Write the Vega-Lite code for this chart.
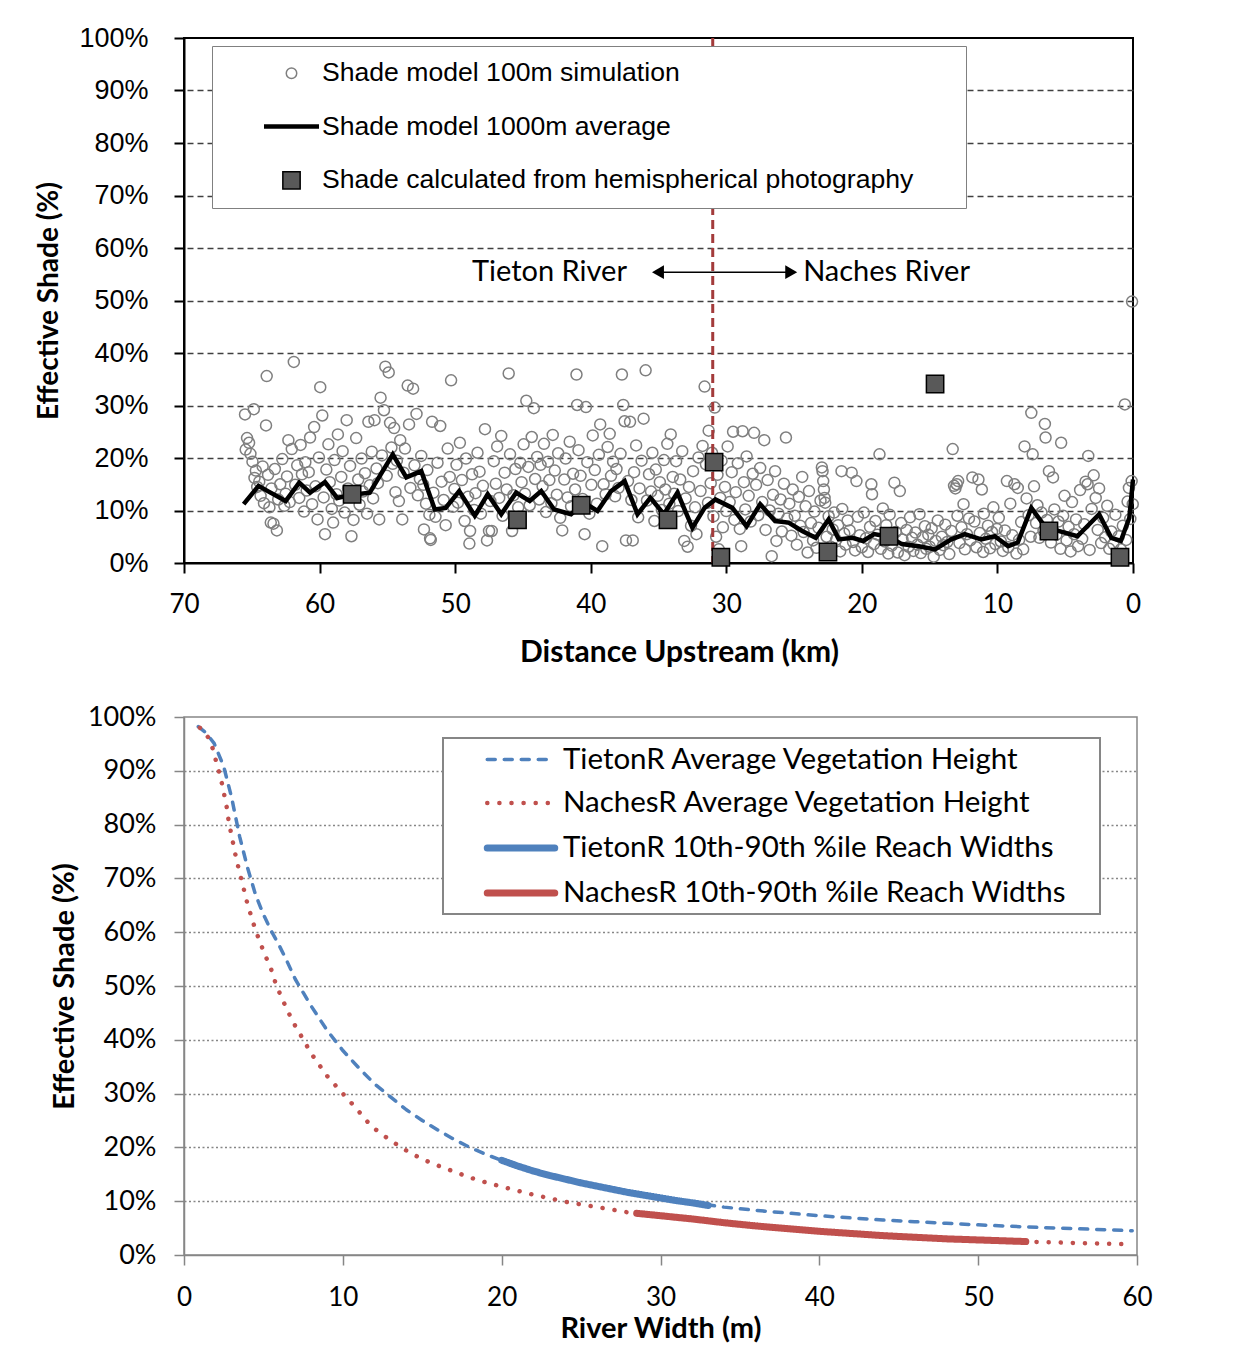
{
  "$schema": "https://vega.github.io/schema/vega-lite/v6.json",
  "usermeta": {"embedOptions": {"actions": false}},
  "background": "white",
  "padding": {"left": 34, "top": 23, "right": 0, "bottom": 0},
  "spacing": 34,
  "resolve": {
    "scale": {"stroke": "independent", "fill": "independent", "shape": "independent", "size": "independent", "strokeWidth": "independent", "strokeDash": "independent", "color": "independent"},
    "legend": {"stroke": "independent", "fill": "independent", "shape": "independent", "size": "independent", "strokeWidth": "independent", "strokeDash": "independent", "color": "independent"}
  },
  "config": {
    "view": {"stroke": null},
    "axis": {"labelColor": "black", "titleColor": "black", "labelFlush": false}
  },
  "vconcat": [
    {
      "width": 949,
      "height": 525,
      "view": {"stroke": "black", "strokeWidth": 2},
      "layer": [
        {
          "data": {"values": [
{"k":65.5,"s":28.3},{"k":65.45,"s":21.6},{"k":65.35,"s":23.8},{"k":65.2,"s":22.9},{"k":65.1,"s":20.8},{"k":64.95,"s":19.3},{"k":64.85,"s":29.3},{"k":64.8,"s":16.2},{"k":64.7,"s":17.6},{"k":64.6,"s":14.5},
{"k":64.45,"s":15.5},{"k":64.35,"s":12.8},{"k":64.2,"s":18.4},{"k":64.1,"s":11.4},{"k":63.9,"s":35.6},{"k":63.95,"s":26.2},{"k":63.8,"s":16.8},{"k":63.7,"s":10.6},{"k":63.6,"s":7.7},{"k":63.55,"s":14.2},
{"k":63.4,"s":7.5},{"k":63.3,"s":17.9},{"k":63.15,"s":6.2},{"k":63.05,"s":12.1},{"k":62.9,"s":15.0},{"k":62.75,"s":19.8},{"k":62.6,"s":10.9},{"k":62.5,"s":13.2},{"k":62.4,"s":16.5},{"k":62.3,"s":23.4},
{"k":62.2,"s":11.6},{"k":62.05,"s":21.7},{"k":61.9,"s":38.3},{"k":61.8,"s":14.9},{"k":61.65,"s":18.6},{"k":61.5,"s":12.4},{"k":61.4,"s":22.5},{"k":61.3,"s":16.9},{"k":61.15,"s":9.8},{"k":61.05,"s":19.2},
{"k":60.95,"s":13.8},{"k":60.8,"s":17.3},{"k":60.7,"s":23.9},{"k":60.55,"s":11.2},{"k":60.4,"s":25.9},{"k":60.3,"s":14.6},{"k":60.15,"s":8.3},{"k":60.05,"s":20.1},{"k":59.95,"s":33.5},{"k":59.8,"s":28.1},
{"k":59.7,"s":12.5},{"k":59.6,"s":5.5},{"k":59.5,"s":17.8},{"k":59.35,"s":22.6},{"k":59.25,"s":15.4},{"k":59.1,"s":10.3},{"k":59.0,"s":7.7},{"k":58.9,"s":19.6},{"k":58.75,"s":13.1},{"k":58.65,"s":24.5},
{"k":58.55,"s":11.9},{"k":58.4,"s":16.4},{"k":58.3,"s":21.3},{"k":58.15,"s":9.6},{"k":58.0,"s":27.2},{"k":57.9,"s":14.2},{"k":57.75,"s":18.5},{"k":57.65,"s":5.1},{"k":57.5,"s":8.2},{"k":57.4,"s":12.7},
{"k":57.3,"s":23.8},{"k":57.15,"s":15.9},{"k":57.05,"s":11.1},{"k":56.9,"s":19.9},{"k":56.8,"s":13.6},{"k":56.65,"s":17.1},{"k":56.5,"s":9.4},{"k":56.4,"s":26.9},{"k":56.3,"s":14.8},{"k":56.15,"s":21.2},
{"k":56.05,"s":12.3},{"k":55.95,"s":27.2},{"k":55.8,"s":18.0},{"k":55.7,"s":15.2},{"k":55.6,"s":8.3},{"k":55.5,"s":31.5},{"k":55.4,"s":20.5},{"k":55.25,"s":29.1},{"k":55.15,"s":37.4},{"k":55.05,"s":16.6},
{"k":54.9,"s":36.3},{"k":54.8,"s":26.7},{"k":54.7,"s":22.0},{"k":54.6,"s":18.9},{"k":54.5,"s":25.7},{"k":54.4,"s":13.5},{"k":54.3,"s":19.5},{"k":54.15,"s":11.8},{"k":54.05,"s":23.4},{"k":53.9,"s":8.3},
{"k":53.8,"s":17.2},{"k":53.7,"s":21.8},{"k":53.5,"s":33.8},{"k":53.4,"s":26.4},{"k":53.3,"s":14.3},{"k":53.1,"s":33.2},{"k":53.0,"s":18.6},{"k":52.85,"s":28.4},{"k":52.75,"s":12.9},{"k":52.6,"s":16.0},
{"k":52.5,"s":20.4},{"k":52.35,"s":14.9},{"k":52.3,"s":6.4},{"k":52.15,"s":11.3},{"k":52.05,"s":17.7},{"k":51.9,"s":9.2},{"k":51.85,"s":4.7},{"k":51.8,"s":4.4},{"k":51.7,"s":26.9},{"k":51.6,"s":13.4},
{"k":51.45,"s":8.8},{"k":51.3,"s":19.1},{"k":51.1,"s":26.1},{"k":51.0,"s":15.5},{"k":50.85,"s":12.0},{"k":50.7,"s":7.2},{"k":50.55,"s":21.8},{"k":50.4,"s":16.4},{"k":50.3,"s":34.8},{"k":50.15,"s":10.7},
{"k":50.05,"s":14.1},{"k":49.9,"s":18.7},{"k":49.8,"s":11.5},{"k":49.65,"s":22.9},{"k":49.5,"s":15.8},{"k":49.3,"s":8.0},{"k":49.2,"s":19.9},{"k":49.05,"s":12.6},{"k":48.95,"s":3.7},{"k":48.9,"s":6.1},
{"k":48.75,"s":16.9},{"k":48.6,"s":10.1},{"k":48.5,"s":13.3},{"k":48.35,"s":21.0},{"k":48.2,"s":17.4},{"k":48.1,"s":9.4},{"k":47.95,"s":14.7},{"k":47.8,"s":25.5},{"k":47.65,"s":4.3},{"k":47.5,"s":6.1},
{"k":47.4,"s":11.8},{"k":47.3,"s":6.1},{"k":47.15,"s":19.4},{"k":47.0,"s":15.1},{"k":46.9,"s":22.2},{"k":46.75,"s":12.4},{"k":46.6,"s":24.2},{"k":46.5,"s":9.0},{"k":46.35,"s":17.2},{"k":46.2,"s":14.0},
{"k":46.05,"s":36.1},{"k":45.95,"s":20.7},{"k":45.8,"s":6.1},{"k":45.7,"s":12.9},{"k":45.55,"s":17.9},{"k":45.5,"s":7.7},{"k":45.35,"s":10.6},{"k":45.2,"s":19.1},{"k":45.1,"s":15.4},{"k":44.95,"s":22.6},
{"k":44.85,"s":13.2},{"k":44.75,"s":30.9},{"k":44.6,"s":18.3},{"k":44.5,"s":11.0},{"k":44.35,"s":24.0},{"k":44.2,"s":29.5},{"k":44.1,"s":16.0},{"k":43.95,"s":20.2},{"k":43.8,"s":12.1},{"k":43.7,"s":18.7},
{"k":43.55,"s":14.6},{"k":43.45,"s":22.7},{"k":43.3,"s":9.7},{"k":43.15,"s":19.3},{"k":43.05,"s":15.8},{"k":42.9,"s":11.4},{"k":42.8,"s":24.4},{"k":42.65,"s":17.6},{"k":42.5,"s":13.0},{"k":42.4,"s":20.9},
{"k":42.25,"s":8.6},{"k":42.1,"s":6.2},{"k":41.95,"s":15.9},{"k":41.85,"s":19.9},{"k":41.7,"s":12.5},{"k":41.55,"s":23.1},{"k":41.45,"s":10.8},{"k":41.3,"s":17.0},{"k":41.15,"s":14.0},{"k":41.05,"s":35.9},
{"k":41.0,"s":30.1},{"k":40.9,"s":21.5},{"k":40.75,"s":16.6},{"k":40.6,"s":12.2},{"k":40.45,"s":5.5},{"k":40.35,"s":29.7},{"k":40.25,"s":19.2},{"k":40.1,"s":9.4},{"k":39.95,"s":14.9},{"k":39.85,"s":24.3},
{"k":39.7,"s":17.7},{"k":39.55,"s":11.3},{"k":39.4,"s":20.6},{"k":39.3,"s":26.4},{"k":39.15,"s":3.2},{"k":39.05,"s":15.0},{"k":38.9,"s":13.1},{"k":38.75,"s":22.1},{"k":38.6,"s":24.6},{"k":38.5,"s":16.6},
{"k":38.35,"s":19.3},{"k":38.2,"s":12.7},{"k":38.1,"s":17.9},{"k":37.95,"s":14.3},{"k":37.8,"s":20.8},{"k":37.7,"s":35.9},{"k":37.6,"s":30.1},{"k":37.5,"s":27.0},{"k":37.4,"s":4.3},{"k":37.25,"s":15.6},
{"k":37.1,"s":26.9},{"k":37.0,"s":12.0},{"k":36.9,"s":4.3},{"k":36.8,"s":17.3},{"k":36.65,"s":22.4},{"k":36.5,"s":8.7},{"k":36.4,"s":14.2},{"k":36.25,"s":19.5},{"k":36.1,"s":27.5},{"k":35.95,"s":36.7},
{"k":35.85,"s":11.9},{"k":35.7,"s":16.9},{"k":35.55,"s":13.6},{"k":35.45,"s":21.0},{"k":35.3,"s":8.0},{"k":35.2,"s":17.8},{"k":35.05,"s":12.8},{"k":34.9,"s":15.4},{"k":34.75,"s":10.1},{"k":34.6,"s":19.6},
{"k":34.5,"s":14.0},{"k":34.35,"s":22.7},{"k":34.2,"s":11.3},{"k":34.1,"s":24.5},{"k":33.95,"s":16.4},{"k":33.85,"s":13.2},{"k":33.7,"s":19.4},{"k":33.55,"s":9.9},{"k":33.4,"s":15.9},{"k":33.25,"s":21.3},
{"k":33.1,"s":4.2},{"k":33.0,"s":12.3},{"k":32.85,"s":3.1},{"k":32.75,"s":14.5},{"k":32.6,"s":7.1},{"k":32.45,"s":17.5},{"k":32.3,"s":10.6},{"k":32.2,"s":5.5},{"k":32.05,"s":20.1},{"k":31.9,"s":13.7},
{"k":31.75,"s":22.3},{"k":31.6,"s":33.6},{"k":31.5,"s":18.8},{"k":31.35,"s":11.5},{"k":31.3,"s":25.2},{"k":31.15,"s":15.2},{"k":31.05,"s":21.0},{"k":30.95,"s":8.9},{"k":30.85,"s":29.6},{"k":30.75,"s":5.0},
{"k":30.65,"s":16.8},{"k":30.55,"s":2.6},{"k":30.45,"s":12.4},{"k":30.35,"s":19.5},{"k":30.25,"s":6.8},{"k":30.1,"s":14.5},{"k":30.0,"s":9.9},{"k":29.9,"s":22.2},{"k":29.75,"s":11.6},{"k":29.6,"s":17.3},
{"k":29.5,"s":25.0},{"k":29.4,"s":8.2},{"k":29.3,"s":13.5},{"k":29.15,"s":19.0},{"k":29.0,"s":6.5},{"k":28.9,"s":3.2},{"k":28.8,"s":25.1},{"k":28.7,"s":15.4},{"k":28.6,"s":10.2},{"k":28.5,"s":20.3},
{"k":28.35,"s":12.8},{"k":28.2,"s":7.9},{"k":28.05,"s":17.0},{"k":27.95,"s":24.8},{"k":27.8,"s":14.9},{"k":27.65,"s":9.1},{"k":27.5,"s":18.1},{"k":27.35,"s":11.6},{"k":27.2,"s":23.4},{"k":27.1,"s":6.3},
{"k":26.95,"s":15.8},{"k":26.8,"s":10.0},{"k":26.65,"s":1.3},{"k":26.55,"s":13.0},{"k":26.4,"s":17.5},{"k":26.3,"s":4.2},{"k":26.15,"s":9.4},{"k":26.0,"s":12.1},{"k":25.9,"s":6.0},{"k":25.75,"s":15.1},
{"k":25.6,"s":23.9},{"k":25.5,"s":8.5},{"k":25.35,"s":11.3},{"k":25.2,"s":5.2},{"k":25.1,"s":14.0},{"k":24.95,"s":9.0},{"k":24.8,"s":3.5},{"k":24.65,"s":12.6},{"k":24.55,"s":7.1},{"k":24.4,"s":16.4},
{"k":24.3,"s":5.9},{"k":24.15,"s":10.8},{"k":24.0,"s":2.0},{"k":23.9,"s":13.7},{"k":23.75,"s":7.6},{"k":23.6,"s":4.3},{"k":23.5,"s":9.8},{"k":23.35,"s":2.9},{"k":23.2,"s":6.7},{"k":23.05,"s":11.9},
{"k":22.95,"s":18.2},{"k":22.9,"s":17.5},{"k":22.85,"s":15.6},{"k":22.8,"s":14.0},{"k":22.75,"s":12.4},{"k":22.7,"s":11.5},{"k":22.6,"s":5.0},{"k":22.45,"s":8.9},{"k":22.3,"s":3.1},{"k":22.15,"s":6.4},{"k":22.05,"s":9.6},
{"k":21.9,"s":4.4},{"k":21.75,"s":7.2},{"k":21.6,"s":2.2},{"k":21.5,"s":17.5},{"k":21.45,"s":10.3},{"k":21.3,"s":5.6},{"k":21.2,"s":3.5},{"k":21.05,"s":8.1},
{"k":20.9,"s":6.2},{"k":20.75,"s":17.2},{"k":20.65,"s":4.0},{"k":20.5,"s":2.4},{"k":20.4,"s":15.6},{"k":20.3,"s":8.8},{"k":20.15,"s":5.3},{"k":20.0,"s":3.0},
{"k":19.85,"s":9.6},{"k":19.7,"s":4.7},{"k":19.55,"s":2.1},{"k":19.4,"s":6.9},{"k":19.3,"s":15.0},{"k":19.25,"s":13.1},{"k":19.1,"s":3.6},{"k":19.0,"s":8.0},
{"k":18.85,"s":5.4},{"k":18.7,"s":20.7},{"k":18.6,"s":2.7},{"k":18.45,"s":10.4},{"k":18.3,"s":4.1},{"k":18.2,"s":7.2},{"k":18.05,"s":1.8},{"k":17.95,"s":9.2},
{"k":17.8,"s":3.3},{"k":17.6,"s":15.3},{"k":17.5,"s":5.9},{"k":17.35,"s":2.0},{"k":17.2,"s":13.7},{"k":17.1,"s":7.6},{"k":17.0,"s":4.5},
{"k":16.85,"s":1.5},{"k":16.7,"s":6.3},{"k":16.55,"s":3.1},{"k":16.45,"s":8.7},{"k":16.3,"s":4.8},{"k":16.2,"s":2.3},{"k":16.05,"s":5.8},
{"k":15.9,"s":3.5},{"k":15.75,"s":9.3},{"k":15.65,"s":1.9},{"k":15.5,"s":4.9},{"k":15.35,"s":7.0},{"k":15.25,"s":2.7},{"k":15.1,"s":5.4},{"k":15.0,"s":3.1},
{"k":14.85,"s":6.6},{"k":14.7,"s":1.2},{"k":14.55,"s":4.2},{"k":14.4,"s":8.1},{"k":14.25,"s":2.5},{"k":14.1,"s":5.0},{"k":14.0,"s":3.4},
{"k":13.85,"s":7.3},{"k":13.7,"s":4.0},{"k":13.55,"s":1.7},{"k":13.4,"s":6.1},{"k":13.3,"s":21.7},{"k":13.2,"s":14.7},{"k":13.1,"s":14.2},{"k":13.0,"s":15.0},{"k":12.95,"s":9.0},{"k":12.9,"s":15.6},
{"k":12.8,"s":3.8},{"k":12.65,"s":6.8},{"k":12.5,"s":11.2},{"k":12.4,"s":2.6},{"k":12.25,"s":5.5},{"k":12.1,"s":8.5},{"k":12.0,"s":4.3},
{"k":11.85,"s":16.3},{"k":11.7,"s":7.9},{"k":11.55,"s":3.0},{"k":11.4,"s":15.9},{"k":11.3,"s":5.7},{"k":11.15,"s":14.0},{"k":11.05,"s":2.1},{"k":11.0,"s":9.4},
{"k":10.85,"s":4.6},{"k":10.7,"s":7.1},{"k":10.55,"s":2.8},{"k":10.4,"s":5.9},{"k":10.3,"s":10.6},{"k":10.15,"s":3.6},{"k":10.05,"s":6.5},
{"k":9.9,"s":8.6},{"k":9.75,"s":4.1},{"k":9.6,"s":2.3},{"k":9.45,"s":6.2},{"k":9.3,"s":15.6},{"k":9.2,"s":3.0},{"k":9.05,"s":11.3},
{"k":8.9,"s":5.3},{"k":8.75,"s":15.0},{"k":8.6,"s":1.8},{"k":8.5,"s":14.3},{"k":8.4,"s":4.4},{"k":8.25,"s":7.8},{"k":8.1,"s":2.6},{"k":8.0,"s":22.2},
{"k":7.85,"s":12.3},{"k":7.7,"s":9.1},{"k":7.55,"s":5.0},{"k":7.5,"s":28.6},{"k":7.4,"s":20.7},{"k":7.3,"s":14.6},{"k":7.15,"s":7.6},{"k":7.05,"s":11.0},
{"k":6.9,"s":4.8},{"k":6.75,"s":9.6},{"k":6.6,"s":6.1},{"k":6.5,"s":26.5},{"k":6.45,"s":23.9},{"k":6.35,"s":8.2},{"k":6.2,"s":17.5},{"k":6.05,"s":3.9},
{"k":5.9,"s":16.3},{"k":5.8,"s":10.2},{"k":5.65,"s":5.4},{"k":5.5,"s":7.9},{"k":5.35,"s":2.7},{"k":5.3,"s":22.9},{"k":5.15,"s":9.0},{"k":5.05,"s":12.8},
{"k":4.9,"s":4.3},{"k":4.75,"s":6.9},{"k":4.6,"s":2.2},{"k":4.5,"s":11.6},{"k":4.35,"s":5.5},{"k":4.2,"s":8.3},{"k":4.05,"s":3.2},
{"k":3.9,"s":13.9},{"k":3.75,"s":4.6},{"k":3.6,"s":7.4},{"k":3.5,"s":15.5},{"k":3.35,"s":15.0},{"k":3.3,"s":20.4},{"k":3.2,"s":2.5},{"k":3.05,"s":10.3},
{"k":2.9,"s":16.7},{"k":2.75,"s":12.4},{"k":2.6,"s":6.3},{"k":2.5,"s":14.2},{"k":2.35,"s":3.8},{"k":2.2,"s":8.6},{"k":2.05,"s":4.9},
{"k":1.9,"s":10.9},{"k":1.75,"s":2.7},{"k":1.6,"s":6.0},{"k":1.45,"s":3.6},{"k":1.3,"s":9.2},{"k":1.15,"s":1.6},{"k":1.05,"s":5.1},
{"k":0.9,"s":2.6},{"k":0.75,"s":7.1},{"k":0.6,"s":30.2},{"k":0.5,"s":4.4},{"k":0.4,"s":11.7},{"k":0.3,"s":14.3},{"k":0.2,"s":8.4},{"k":0.1,"s":15.6},{"k":0.07,"s":49.8},{"k":0.02,"s":11.2}
          ]},
          "mark": {"type": "point", "shape": "circle", "filled": false, "stroke": "#7f7f7f", "fill": "transparent", "strokeWidth": 1.5, "size": 121, "opacity": 1},
          "encoding": {
            "x": {
              "field": "k", "type": "quantitative",
              "scale": {"domain": [0, 70], "reverse": true, "nice": false, "zero": false},
              "title": "Distance Upstream (km)",
              "axis": {
                "values": [0, 10, 20, 30, 40, 50, 60, 70],
                "grid": false,
                "domainColor": "black", "domainWidth": 2,
                "tickColor": "black", "tickWidth": 2, "tickSize": 10,
                "labelFont": "Lato", "labelFontSize": 26, "labelPadding": 18,
                "titleFont": "Lato", "titleFontSize": 30, "titleFontWeight": "bold",
                "titlePadding": 20, "titleX": 495
              }
            },
            "y": {
              "field": "s", "type": "quantitative",
              "scale": {"domain": [0, 100], "nice": false},
              "title": "Effective Shade (%)",
              "axis": {
                "values": [0, 10, 20, 30, 40, 50, 60, 70, 80, 90, 100],
                "labelExpr": "datum.value + '%'",
                "domainColor": "black", "domainWidth": 2,
                "tickColor": "black", "tickWidth": 2, "tickSize": 10,
                "labelFont": "Liberation Sans", "labelFontSize": 27, "labelPadding": 26,
                "grid": true, "gridColor": "#404040", "gridDash": [6, 4], "gridWidth": 1.5,
                "gridOpacity": {"condition": {"test": "datum.value == 0 || datum.value == 100", "value": 0}, "value": 1},
                "titleFont": "Lato", "titleFontSize": 28, "titleFontWeight": "bold", "titlePadding": 15
              }
            }
          }
        },
        {
          "data": {"values": [{"k": 31.0}]},
          "mark": {"type": "rule", "color": "#a33b3b", "strokeDash": [9, 5], "strokeWidth": 3},
          "encoding": {"x": {"field": "k", "type": "quantitative"}}
        },
        {
          "data": {"values": [
{"k":65.6,"s":11.2},{"k":64.5,"s":14.7},{"k":63.75,"s":13.6},{"k":62.5,"s":11.8},{"k":61.5,"s":15.3},{"k":60.7,"s":13.4},{"k":59.6,"s":15.4},{"k":58.7,"s":12.4},{"k":57.6,"s":13.0},{"k":56.3,"s":13.4},
{"k":54.6,"s":20.7},{"k":53.6,"s":16.3},{"k":52.5,"s":17.5},{"k":51.5,"s":10.2},{"k":50.7,"s":10.5},{"k":49.7,"s":13.7},{"k":48.55,"s":9.0},{"k":47.6,"s":13.1},{"k":46.6,"s":9.3},{"k":45.5,"s":13.4},
{"k":44.5,"s":11.8},{"k":43.65,"s":13.7},{"k":42.7,"s":10.2},{"k":41.45,"s":9.3},{"k":40.5,"s":11.5},{"k":39.5,"s":9.9},{"k":38.5,"s":13.7},{"k":37.5,"s":15.6},{"k":36.55,"s":9.3},{"k":35.6,"s":12.4},
{"k":34.6,"s":9.3},{"k":33.6,"s":13.4},{"k":32.5,"s":6.7},{"k":31.6,"s":10.5},{"k":30.8,"s":12.1},{"k":29.55,"s":10.5},{"k":28.5,"s":7.0},{"k":27.5,"s":11.2},{"k":26.4,"s":8.0},{"k":25.4,"s":7.7},
{"k":24.4,"s":6.1},{"k":23.4,"s":4.8},{"k":22.45,"s":8.3},{"k":21.7,"s":4.5},{"k":20.7,"s":4.8},{"k":19.9,"s":4.2},{"k":19.1,"s":5.5},{"k":18.0,"s":5.0},{"k":17.05,"s":3.6},{"k":15.8,"s":3.2},
{"k":14.6,"s":2.6},{"k":13.4,"s":4.5},{"k":12.4,"s":5.5},{"k":11.2,"s":4.5},{"k":10.2,"s":5.1},{"k":9.2,"s":3.2},{"k":8.5,"s":3.9},{"k":7.5,"s":10.5},{"k":6.5,"s":7.0},{"k":5.5,"s":6.1},
{"k":4.1,"s":5.1},{"k":2.5,"s":9.3},{"k":1.6,"s":4.8},{"k":0.9,"s":4.2},{"k":0.27,"s":8.6},{"k":0.0,"s":15.9}
          ]},
          "mark": {"type": "line", "color": "black", "strokeWidth": 4.5, "strokeJoin": "miter", "strokeCap": "butt"},
          "encoding": {
            "x": {"field": "k", "type": "quantitative"},
            "y": {"field": "s", "type": "quantitative"}
          }
        },
        {
          "data": {"values": [
{"k":57.6,"s":13.1},{"k":45.4,"s":8.2},{"k":40.7,"s":11.0},{"k":34.3,"s":8.2},{"k":30.9,"s":19.2},{"k":30.4,"s":1.1},{"k":22.5,"s":2.1},{"k":18.0,"s":5.1},{"k":14.6,"s":34.1},{"k":6.2,"s":6.1},{"k":0.96,"s":1.1}
          ]},
          "mark": {"type": "point", "shape": "square", "filled": true, "fill": "#595959", "stroke": "black", "strokeWidth": 1.5, "size": 300, "opacity": 1},
          "encoding": {
            "x": {"field": "k", "type": "quantitative"},
            "y": {"field": "s", "type": "quantitative"}
          }
        },
        {
          "data": {"values": [{"k": 35.04, "k2": 25.21, "s": 55.4}]},
          "mark": {"type": "rule", "color": "black", "strokeWidth": 1.5},
          "encoding": {
            "x": {"field": "k", "type": "quantitative"},
            "x2": {"field": "k2"},
            "y": {"field": "s", "type": "quantitative"}
          }
        },
        {
          "data": {"values": [{"k": 35.04, "s": 55.4}]},
          "mark": {"type": "point", "shape": "triangle-left", "filled": true, "color": "black", "size": 190, "opacity": 1},
          "encoding": {
            "x": {"field": "k", "type": "quantitative"},
            "y": {"field": "s", "type": "quantitative"}
          }
        },
        {
          "data": {"values": [{"k": 25.21, "s": 55.4}]},
          "mark": {"type": "point", "shape": "triangle-right", "filled": true, "color": "black", "size": 190, "opacity": 1},
          "encoding": {
            "x": {"field": "k", "type": "quantitative"},
            "y": {"field": "s", "type": "quantitative"}
          }
        },
        {
          "data": {"values": [{"k": 43.04, "s": 55.4, "t": "Tieton River"}, {"k": 18.18, "s": 55.4, "t": "Naches River"}]},
          "mark": {"type": "text", "font": "Lato", "fontSize": 29, "color": "black", "align": "center", "baseline": "middle"},
          "encoding": {
            "x": {"field": "k", "type": "quantitative"},
            "y": {"field": "s", "type": "quantitative"},
            "text": {"field": "t"}
          }
        },
        {
          "data": {"values": [{"series": "Shade model 100m simulation"}, {"series": "Shade model 1000m average"}, {"series": "Shade calculated from hemispherical photography"}]},
          "transform": [{"filter": "false"}],
          "mark": {"type": "point", "opacity": 1},
          "encoding": {
            "shape": {
              "field": "series", "type": "nominal",
              "scale": {"domain": ["Shade model 100m simulation", "Shade model 1000m average", "Shade calculated from hemispherical photography"], "range": ["circle", "M-2.5,0H2.5M59.2,0", "square"]},
              "legend": {
                "orient": "none", "legendX": 28, "legendY": 8, "title": null,
                "padding": 14, "symbolOffset": 52, "labelOffset": 17, "rowPadding": 26,
                "labelFont": "Liberation Sans", "labelFontSize": 26.6, "labelColor": "black", "labelLimit": 2000,
                "fillColor": "white", "strokeColor": "#808080",
                "encode": {"legend": {"update": {"strokeWidth": {"value": 2}}}}
              }
            },
            "stroke": {
              "field": "series", "type": "nominal",
              "scale": {"domain": ["Shade model 100m simulation", "Shade model 1000m average", "Shade calculated from hemispherical photography"], "range": ["#7f7f7f", "#000000", "#000000"]}
            },
            "fill": {
              "field": "series", "type": "nominal",
              "scale": {"domain": ["Shade model 100m simulation", "Shade model 1000m average", "Shade calculated from hemispherical photography"], "range": ["transparent", "transparent", "#595959"]}
            },
            "size": {
              "field": "series", "type": "nominal",
              "scale": {"type": "ordinal", "domain": ["Shade model 100m simulation", "Shade model 1000m average", "Shade calculated from hemispherical photography"], "range": [110, 484, 300]}
            },
            "strokeWidth": {
              "field": "series", "type": "nominal",
              "scale": {"type": "ordinal", "domain": ["Shade model 100m simulation", "Shade model 1000m average", "Shade calculated from hemispherical photography"], "range": [1.5, 4.5, 1.5]}
            }
          }
        }
      ]
    },
    {
      "width": 953,
      "height": 538,
      "view": {"stroke": "#868686", "strokeWidth": 1.5},
      "data": {"values": [
{"w":0.9,"p":98.2,"series":"TietonR Average Vegetation Height"},{"w":1.4,"p":97.0,"series":"TietonR Average Vegetation Height"},{"w":1.9,"p":95.1,"series":"TietonR Average Vegetation Height"},{"w":2.5,"p":90.8,"series":"TietonR Average Vegetation Height"},{"w":3,"p":85.0,"series":"TietonR Average Vegetation Height"},{"w":3.5,"p":77.8,"series":"TietonR Average Vegetation Height"},{"w":4,"p":72.0,"series":"TietonR Average Vegetation Height"},{"w":4.5,"p":67.0,"series":"TietonR Average Vegetation Height"},{"w":5,"p":63.3,"series":"TietonR Average Vegetation Height"},{"w":5.5,"p":60.2,"series":"TietonR Average Vegetation Height"},{"w":6,"p":57.5,"series":"TietonR Average Vegetation Height"},{"w":6.5,"p":54.5,"series":"TietonR Average Vegetation Height"},{"w":7,"p":51.3,"series":"TietonR Average Vegetation Height"},{"w":7.5,"p":48.8,"series":"TietonR Average Vegetation Height"},{"w":8,"p":46.3,"series":"TietonR Average Vegetation Height"},{"w":9,"p":41.8,"series":"TietonR Average Vegetation Height"},{"w":10,"p":38.0,"series":"TietonR Average Vegetation Height"},{"w":11,"p":34.8,"series":"TietonR Average Vegetation Height"},{"w":12,"p":31.8,"series":"TietonR Average Vegetation Height"},{"w":13,"p":29.4,"series":"TietonR Average Vegetation Height"},{"w":14,"p":27.0,"series":"TietonR Average Vegetation Height"},{"w":15,"p":25.0,"series":"TietonR Average Vegetation Height"},{"w":16,"p":23.2,"series":"TietonR Average Vegetation Height"},{"w":17,"p":21.5,"series":"TietonR Average Vegetation Height"},{"w":18,"p":20.0,"series":"TietonR Average Vegetation Height"},{"w":19,"p":18.7,"series":"TietonR Average Vegetation Height"},{"w":20,"p":17.6,"series":"TietonR Average Vegetation Height"},{"w":22,"p":15.6,"series":"TietonR Average Vegetation Height"},{"w":24,"p":14.1,"series":"TietonR Average Vegetation Height"},{"w":26,"p":12.8,"series":"TietonR Average Vegetation Height"},{"w":28,"p":11.6,"series":"TietonR Average Vegetation Height"},{"w":30,"p":10.6,"series":"TietonR Average Vegetation Height"},{"w":32,"p":9.7,"series":"TietonR Average Vegetation Height"},{"w":34,"p":8.9,"series":"TietonR Average Vegetation Height"},{"w":36,"p":8.3,"series":"TietonR Average Vegetation Height"},{"w":38,"p":7.8,"series":"TietonR Average Vegetation Height"},{"w":40,"p":7.3,"series":"TietonR Average Vegetation Height"},{"w":42,"p":6.9,"series":"TietonR Average Vegetation Height"},{"w":44,"p":6.5,"series":"TietonR Average Vegetation Height"},{"w":46,"p":6.2,"series":"TietonR Average Vegetation Height"},{"w":48,"p":5.9,"series":"TietonR Average Vegetation Height"},{"w":50,"p":5.6,"series":"TietonR Average Vegetation Height"},{"w":52,"p":5.35,"series":"TietonR Average Vegetation Height"},{"w":54,"p":5.1,"series":"TietonR Average Vegetation Height"},{"w":56,"p":4.9,"series":"TietonR Average Vegetation Height"},{"w":58,"p":4.7,"series":"TietonR Average Vegetation Height"},{"w":59.7,"p":4.5,"series":"TietonR Average Vegetation Height"},
{"w":1,"p":98.0,"series":"NachesR Average Vegetation Height"},{"w":1.5,"p":96.3,"series":"NachesR Average Vegetation Height"},{"w":1.8,"p":94.2,"series":"NachesR Average Vegetation Height"},{"w":2.0,"p":92.0,"series":"NachesR Average Vegetation Height"},{"w":2.2,"p":89.8,"series":"NachesR Average Vegetation Height"},{"w":2.4,"p":87.5,"series":"NachesR Average Vegetation Height"},{"w":2.55,"p":85.3,"series":"NachesR Average Vegetation Height"},{"w":2.7,"p":83.1,"series":"NachesR Average Vegetation Height"},{"w":2.8,"p":80.9,"series":"NachesR Average Vegetation Height"},{"w":2.95,"p":78.6,"series":"NachesR Average Vegetation Height"},{"w":3.1,"p":76.4,"series":"NachesR Average Vegetation Height"},{"w":3.3,"p":73.5,"series":"NachesR Average Vegetation Height"},{"w":3.6,"p":70.0,"series":"NachesR Average Vegetation Height"},{"w":4,"p":65.2,"series":"NachesR Average Vegetation Height"},{"w":4.5,"p":60.4,"series":"NachesR Average Vegetation Height"},{"w":5,"p":56.5,"series":"NachesR Average Vegetation Height"},{"w":5.5,"p":53.0,"series":"NachesR Average Vegetation Height"},{"w":5.8,"p":50.2,"series":"NachesR Average Vegetation Height"},{"w":6.5,"p":45.5,"series":"NachesR Average Vegetation Height"},{"w":7,"p":42.6,"series":"NachesR Average Vegetation Height"},{"w":7.5,"p":40.1,"series":"NachesR Average Vegetation Height"},{"w":8,"p":37.5,"series":"NachesR Average Vegetation Height"},{"w":9,"p":33.3,"series":"NachesR Average Vegetation Height"},{"w":10,"p":30.0,"series":"NachesR Average Vegetation Height"},{"w":10.8,"p":27.4,"series":"NachesR Average Vegetation Height"},{"w":11.8,"p":23.9,"series":"NachesR Average Vegetation Height"},{"w":13,"p":21.3,"series":"NachesR Average Vegetation Height"},{"w":14,"p":19.4,"series":"NachesR Average Vegetation Height"},{"w":15,"p":17.8,"series":"NachesR Average Vegetation Height"},{"w":16,"p":16.6,"series":"NachesR Average Vegetation Height"},{"w":17,"p":15.5,"series":"NachesR Average Vegetation Height"},{"w":18,"p":14.4,"series":"NachesR Average Vegetation Height"},{"w":19,"p":13.5,"series":"NachesR Average Vegetation Height"},{"w":20,"p":12.7,"series":"NachesR Average Vegetation Height"},{"w":22,"p":11.2,"series":"NachesR Average Vegetation Height"},{"w":24,"p":9.9,"series":"NachesR Average Vegetation Height"},{"w":26,"p":8.9,"series":"NachesR Average Vegetation Height"},{"w":28,"p":7.9,"series":"NachesR Average Vegetation Height"},{"w":30,"p":7.3,"series":"NachesR Average Vegetation Height"},{"w":32,"p":6.7,"series":"NachesR Average Vegetation Height"},{"w":34,"p":6.0,"series":"NachesR Average Vegetation Height"},{"w":36,"p":5.4,"series":"NachesR Average Vegetation Height"},{"w":38,"p":4.9,"series":"NachesR Average Vegetation Height"},{"w":40,"p":4.4,"series":"NachesR Average Vegetation Height"},{"w":42,"p":4.0,"series":"NachesR Average Vegetation Height"},{"w":44,"p":3.6,"series":"NachesR Average Vegetation Height"},{"w":46,"p":3.3,"series":"NachesR Average Vegetation Height"},{"w":48,"p":3.0,"series":"NachesR Average Vegetation Height"},{"w":50,"p":2.8,"series":"NachesR Average Vegetation Height"},{"w":52,"p":2.6,"series":"NachesR Average Vegetation Height"},{"w":54,"p":2.4,"series":"NachesR Average Vegetation Height"},{"w":56,"p":2.25,"series":"NachesR Average Vegetation Height"},{"w":58,"p":2.1,"series":"NachesR Average Vegetation Height"},{"w":59.6,"p":2.0,"series":"NachesR Average Vegetation Height"},
{"w":20,"p":17.6,"series":"TietonR 10th-90th %ile Reach Widths"},{"w":21,"p":16.55,"series":"TietonR 10th-90th %ile Reach Widths"},{"w":22,"p":15.6,"series":"TietonR 10th-90th %ile Reach Widths"},{"w":23,"p":14.8,"series":"TietonR 10th-90th %ile Reach Widths"},{"w":24,"p":14.1,"series":"TietonR 10th-90th %ile Reach Widths"},{"w":25,"p":13.4,"series":"TietonR 10th-90th %ile Reach Widths"},{"w":26,"p":12.8,"series":"TietonR 10th-90th %ile Reach Widths"},{"w":27,"p":12.2,"series":"TietonR 10th-90th %ile Reach Widths"},{"w":28,"p":11.6,"series":"TietonR 10th-90th %ile Reach Widths"},{"w":29,"p":11.1,"series":"TietonR 10th-90th %ile Reach Widths"},{"w":30,"p":10.6,"series":"TietonR 10th-90th %ile Reach Widths"},{"w":31,"p":10.1,"series":"TietonR 10th-90th %ile Reach Widths"},{"w":32,"p":9.7,"series":"TietonR 10th-90th %ile Reach Widths"},{"w":33,"p":9.2,"series":"TietonR 10th-90th %ile Reach Widths"},
{"w":28.5,"p":7.75,"series":"NachesR 10th-90th %ile Reach Widths"},{"w":30,"p":7.3,"series":"NachesR 10th-90th %ile Reach Widths"},{"w":32,"p":6.7,"series":"NachesR 10th-90th %ile Reach Widths"},{"w":34,"p":6.0,"series":"NachesR 10th-90th %ile Reach Widths"},{"w":36,"p":5.4,"series":"NachesR 10th-90th %ile Reach Widths"},{"w":38,"p":4.9,"series":"NachesR 10th-90th %ile Reach Widths"},{"w":40,"p":4.4,"series":"NachesR 10th-90th %ile Reach Widths"},{"w":42,"p":4.0,"series":"NachesR 10th-90th %ile Reach Widths"},{"w":44,"p":3.6,"series":"NachesR 10th-90th %ile Reach Widths"},{"w":46,"p":3.3,"series":"NachesR 10th-90th %ile Reach Widths"},{"w":48,"p":3.0,"series":"NachesR 10th-90th %ile Reach Widths"},{"w":50,"p":2.8,"series":"NachesR 10th-90th %ile Reach Widths"},{"w":52,"p":2.6,"series":"NachesR 10th-90th %ile Reach Widths"},{"w":53,"p":2.5,"series":"NachesR 10th-90th %ile Reach Widths"}
      ]},
      "mark": {"type": "line", "strokeCap": "round", "strokeJoin": "round"},
      "encoding": {
        "x": {
          "field": "w", "type": "quantitative",
          "scale": {"domain": [0, 60], "nice": false},
          "title": "River Width (m)",
          "axis": {
            "values": [0, 10, 20, 30, 40, 50, 60],
            "grid": false,
            "domainColor": "#868686", "domainWidth": 1.5,
            "tickColor": "#868686", "tickWidth": 1.5, "tickSize": 10,
            "labelFont": "Lato", "labelFontSize": 26, "labelPadding": 19,
            "titleFont": "Lato", "titleFontSize": 29, "titleFontWeight": "bold", "titlePadding": 4
          }
        },
        "y": {
          "field": "p", "type": "quantitative",
          "scale": {"domain": [0, 100], "nice": false},
          "title": "Effective Shade (%)",
          "axis": {
            "values": [0, 10, 20, 30, 40, 50, 60, 70, 80, 90, 100],
            "labelExpr": "datum.value + '%'",
            "domainColor": "#868686", "domainWidth": 1.5,
            "tickColor": "#868686", "tickWidth": 1.5, "tickSize": 10,
            "labelFont": "Lato", "labelFontSize": 27, "labelPadding": 18,
            "grid": true, "gridColor": "#868686", "gridDash": [2, 2.5], "gridWidth": 1.5,
            "gridOpacity": {"condition": {"test": "datum.value == 0 || datum.value == 100", "value": 0}, "value": 1},
            "titleFont": "Lato", "titleFontSize": 29, "titleFontWeight": "bold", "titlePadding": 8
          }
        },
        "stroke": {
          "field": "series", "type": "nominal",
          "scale": {"domain": ["TietonR Average Vegetation Height", "NachesR Average Vegetation Height", "TietonR 10th-90th %ile Reach Widths", "NachesR 10th-90th %ile Reach Widths"], "range": ["#4f81bd", "#c0504d", "#4f81bd", "#c0504d"]},
          "legend": {
            "orient": "none", "legendX": 259, "legendY": 21, "title": null,
            "padding": 6, "symbolOffset": 55, "labelOffset": 25, "rowPadding": 13,
            "symbolType": "M-2.5,0H2.5M41.4,0", "symbolSize": 729,
            "labelFont": "Lato", "labelFontSize": 29.5, "labelColor": "black", "labelLimit": 2000,
            "fillColor": "white", "strokeColor": "#868686",
            "encode": {"legend": {"update": {"strokeWidth": {"value": 2}}}, "symbols": {"update": {"strokeCap": {"value": "round"}}}}
          }
        },
        "strokeDash": {
          "field": "series", "type": "nominal",
          "scale": {"domain": ["TietonR Average Vegetation Height", "NachesR Average Vegetation Height", "TietonR 10th-90th %ile Reach Widths", "NachesR 10th-90th %ile Reach Widths"], "range": [[8, 9], [0.1, 12], [1, 0], [1, 0]]}
        },
        "strokeWidth": {
          "field": "series", "type": "nominal",
          "scale": {"type": "ordinal", "domain": ["TietonR Average Vegetation Height", "NachesR Average Vegetation Height", "TietonR 10th-90th %ile Reach Widths", "NachesR 10th-90th %ile Reach Widths"], "range": [3.5, 4.5, 7, 7]}
        }
      }
    }
  ]
}
